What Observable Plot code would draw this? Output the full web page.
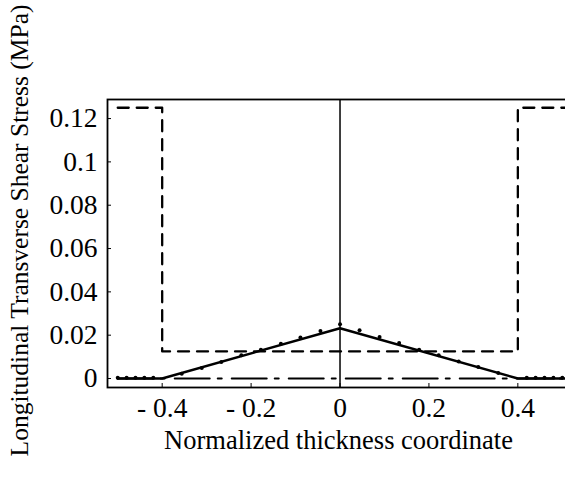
<!DOCTYPE html>
<html>
<head>
<meta charset="utf-8">
<script src="https://cdn.jsdelivr.net/npm/d3@7"></script>
<script src="https://cdn.jsdelivr.net/npm/@observablehq/plot@0.6"></script>
<style>
  html, body { margin: 0; padding: 0; background: white; }
</style>
</head>
<body>
<div id="chart"></div>
<script>
// Tick values and labels
const xTicks = [-0.4, -0.2, 0, 0.2, 0.4];
const xTickLabels = ["- 0.4", "- 0.2", "0", "0.2", "0.4"];
const yTicks = [0, 0.02, 0.04, 0.06, 0.08, 0.1, 0.12];
const yTickLabels = ["0", "0.02", "0.04", "0.06", "0.08", "0.1", "0.12"];
const xLabel = "Normalized thickness coordinate";
const yLabel = "Longitudinal Transverse Shear Stress (MPa)";

// Dashed series
const dashedX = [-0.5, -0.4, -0.4, 0.4, 0.4, 0.52];
const dashedY = [0.125, 0.125, 0.0125, 0.0125, 0.125, 0.125];

// Solid series
const solidX = [-0.5, -0.4, 0, 0.4, 0.52];
const solidY = [0, 0, 0.0232, 0, 0];

// Dash-dot series
const dashDotX = [-0.5, 0.5];
const dashDotY = [0, 0];

// Dotted points
const dotX = [-0.5, -0.48, -0.46, -0.44, -0.42,
  -0.356, -0.311, -0.267, -0.222, -0.178, -0.133, -0.089, -0.044, 0,
  0.044, 0.089, 0.133, 0.178, 0.222, 0.267, 0.311, 0.356,
  0.42, 0.44, 0.46, 0.48, 0.5];
const dotY = [0.0004, 0.0004, 0.0004, 0.0004, 0.0004,
  0.0022, 0.0048, 0.0076, 0.0107, 0.0133, 0.0161, 0.0189, 0.0219, 0.0251,
  0.0223, 0.0192, 0.0164, 0.0133, 0.0107, 0.0079, 0.0053, 0.0025,
  0.0004, 0.0004, 0.0004, 0.0004, 0.0004];

const dashed = dashedX.map((x, i) => ({x, y: dashedY[i]}));
const solid = solidX.map((x, i) => ({x, y: solidY[i]}));
const dashDot = dashDotX.map((x, i) => ({x, y: dashDotY[i]}));
const dots = dotX.map((x, i) => ({x, y: dotY[i]}));

const font = "'Liberation Serif', 'Times New Roman', serif";

const chart = Plot.plot({
  width: 565,
  height: 479,
  marginLeft: 107,
  marginRight: -2,
  marginTop: 99,
  marginBottom: 92,
  x: {domain: [-0.523, 0.5117]},
  y: {domain: [-0.00415, 0.1288]},
  style: {fontFamily: font, fontSize: "26px", color: "black", background: "white", overflow: "hidden"},
  marks: [
    Plot.frame({stroke: "black", strokeWidth: 1.8}),
    Plot.ruleX([0], {stroke: "black", strokeWidth: 1.5}),
    Plot.line(dashed, {x: "x", y: "y", stroke: "black", strokeWidth: 2.3, strokeDasharray: "11,8"}),
    Plot.line(dashDot, {x: "x", y: "y", stroke: "black", strokeWidth: 2, strokeDasharray: "35,8,4,10"}),
    Plot.line(solid, {x: "x", y: "y", stroke: "black", strokeWidth: 2.4}),
    Plot.dot(dots, {x: "x", y: "y", r: 2, fill: "black", stroke: null}),
    Plot.axisX({ticks: xTicks, tickFormat: (d, i) => xTickLabels[i], tickSize: 0, tickPadding: 10, fontSize: 27.5, label: null}),
    Plot.axisX({ticks: xTicks, tickFormat: () => "", tickSize: 4, dy: -4, label: null}),
    Plot.axisY({ticks: yTicks, tickFormat: (d, i) => yTickLabels[i], tickSize: 0, tickPadding: 10, fontSize: 27.5, label: null}),
    Plot.axisY({ticks: yTicks, tickFormat: () => "", tickSize: 4, dx: 4, label: null}),
    Plot.text([xLabel], {frameAnchor: "bottom", textAnchor: "middle", lineAnchor: "bottom", dx: 1, dy: 61, fontSize: 26.5}),
    Plot.text([yLabel], {frameAnchor: "left", rotate: -90, textAnchor: "middle", lineAnchor: "middle", dx: -88, dy: -13, fontSize: 25.5})
  ]
});
document.getElementById("chart").appendChild(chart);
</script>
</body>
</html>
